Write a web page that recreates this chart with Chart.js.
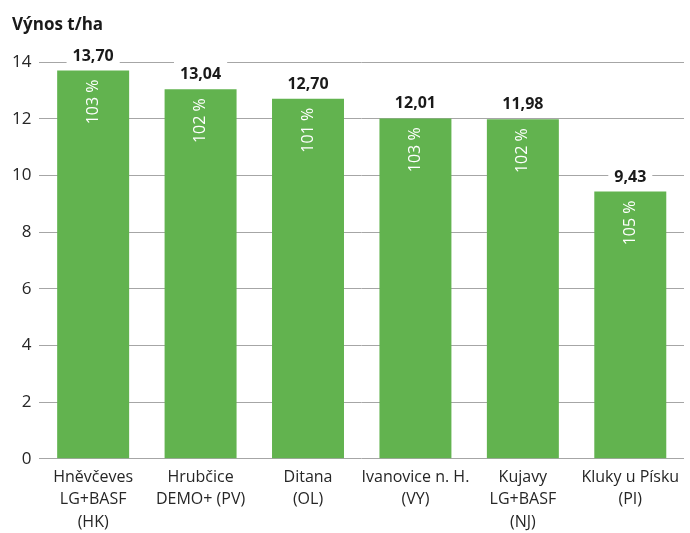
<!DOCTYPE html>
<html><head><meta charset="utf-8">
<script src="https://cdn.jsdelivr.net/npm/chart.js@4/dist/chart.umd.min.js"></script>
<style>html,body{margin:0;padding:0;background:#fff}#wrap{width:690px;height:533px}</style>
</head><body><div id="wrap"><canvas id="c" width="690" height="533"></canvas></div>
<script>
const categories = [
  ["Hněvčeves","LG+BASF","(HK)"],
  ["Hrubčice","DEMO+ (PV)"],
  ["Ditana","(OL)"],
  ["Ivanovice n. H.","(VY)"],
  ["Kujavy","LG+BASF","(NJ)"],
  ["Kluky u Písku","(PI)"]
];
const yields = [13.70, 13.04, 12.70, 12.01, 11.98, 9.43];
const percents = [103, 102, 101, 103, 102, 105];
const yTicks = [0, 2, 4, 6, 8, 10, 12, 14];
const titleText = 'Výnos t/ha';

const FONT = "'Open Sans', sans-serif";
const fmt = v => v.toFixed(2).replace('.', ',');

const labelPlugin = {
  id: 'labels',
  afterDatasetsDraw(chart) {
    const ctx = chart.ctx;
    const meta = chart.getDatasetMeta(0);
    meta.data.forEach((bar, i) => {
      const x = bar.x, top = bar.y;
      ctx.save();
      ctx.font = "bold 16px " + FONT;
      const t = fmt(yields[i]);
      const w = ctx.measureText(t).width;
      ctx.fillStyle = '#fff';
      ctx.fillRect(x - w/2 - 6, top - 28, w + 12, 23);
      ctx.fillStyle = '#1a1a1a';
      ctx.textAlign = 'center';
      ctx.textBaseline = 'alphabetic';
      ctx.fillText(t, x, top - 10);
      ctx.restore();
      ctx.save();
      ctx.translate(x, top + 9);
      ctx.rotate(-Math.PI/2);
      ctx.font = "16px " + FONT;
      ctx.fillStyle = '#ffffff';
      ctx.textAlign = 'right';
      ctx.textBaseline = 'middle';
      ctx.fillText(percents[i] + ' %', 0, 0);
      ctx.restore();
    });
    ctx.save();
    ctx.font = "bold 17px " + FONT;
    ctx.fillStyle = '#1a1a1a';
    ctx.textAlign = 'left';
    ctx.textBaseline = 'middle';
    ctx.fillText(titleText, 12, 25);
    ctx.restore();
  }
};

new Chart(document.getElementById('c'), {
  type: 'bar',
  data: {
    labels: categories,
    datasets: [{
      data: yields,
      backgroundColor: '#62b34f',
      categoryPercentage: 0.67,
      barPercentage: 1.0
    }]
  },
  options: {
    responsive: false,
    animation: false,
    layout: { padding: { left: 4, right: 6, top: 62, bottom: 0 } },
    plugins: {
      legend: { display: false },
      tooltip: { enabled: false },
      title: { display: false }
    },
    scales: {
      x: {
        grid: { display: false },
        border: { display: false },
        ticks: {
          color: '#262626',
          font: { family: FONT, size: 16, lineHeight: 1.38 },
          maxRotation: 0,
          autoSkip: false,
          padding: 0
        }
      },
      y: {
        min: 0, max: 14,
        afterBuildTicks(axis) { axis.ticks = yTicks.map(v => ({ value: v })); },
        grid: { color: '#a6a6a6', lineWidth: 1, drawTicks: false },
        border: { display: false },
        ticks: {
          color: '#262626',
          font: { family: FONT, size: 17 },
          padding: 8
        }
      }
    }
  },
  plugins: [labelPlugin]
});
</script></body></html>
